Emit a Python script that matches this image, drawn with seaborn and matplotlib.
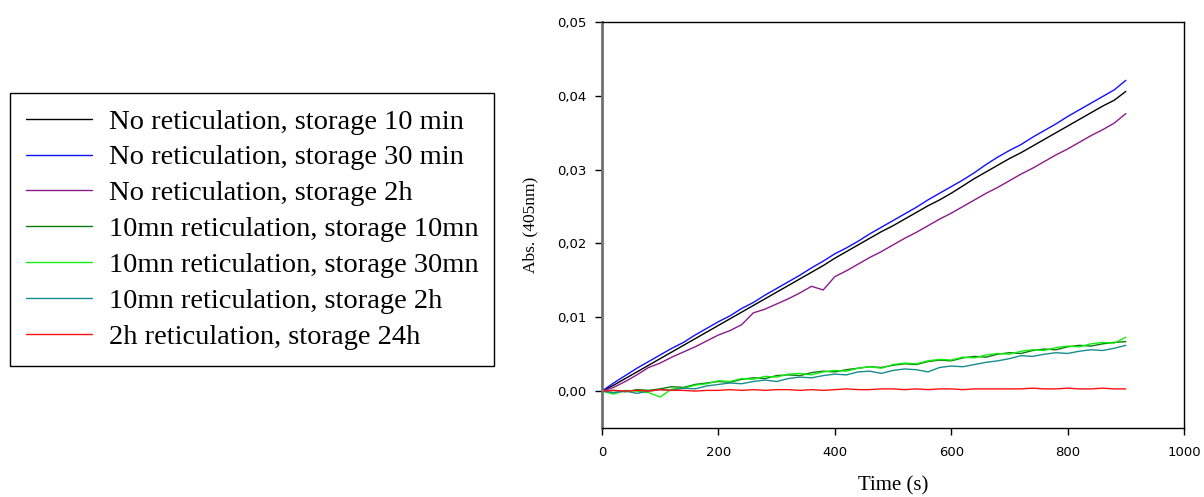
import seaborn as sns
import matplotlib.pyplot as plt
import matplotlib.ticker as mticker
import pandas as pd
import numpy as np

sns.set_style("white")
plt.rcParams.update({"text.color": "black", "axes.labelcolor": "black",
                     "xtick.color": "black", "ytick.color": "black"})

# Time axis (s), sampled every 20 s
time_s = list(range(0, 901, 20))

# Absorbance at 405 nm
no_ret_10min = [0.0000, 0.0008, 0.0017, 0.0026, 0.0035, 0.0044, 0.0053, 0.0062, 0.0071, 0.0080,
                0.0089, 0.0098, 0.0107, 0.0116, 0.0125, 0.0134, 0.0143, 0.0152, 0.0161, 0.0170,
                0.0180, 0.0189, 0.0198, 0.0207, 0.0216, 0.0224, 0.0233, 0.0242, 0.0251, 0.0259,
                0.0268, 0.0278, 0.0288, 0.0297, 0.0306, 0.0315, 0.0323, 0.0332, 0.0341, 0.0350,
                0.0359, 0.0368, 0.0377, 0.0386, 0.0394, 0.0406]
no_ret_30min = [0.0000, 0.0011, 0.0021, 0.0031, 0.0040, 0.0049, 0.0058, 0.0066, 0.0076, 0.0085,
                0.0094, 0.0102, 0.0112, 0.0120, 0.0130, 0.0139, 0.0148, 0.0157, 0.0167, 0.0176,
                0.0186, 0.0194, 0.0203, 0.0213, 0.0222, 0.0231, 0.0240, 0.0249, 0.0259, 0.0268,
                0.0277, 0.0286, 0.0296, 0.0307, 0.0317, 0.0326, 0.0334, 0.0344, 0.0353, 0.0362,
                0.0372, 0.0381, 0.0390, 0.0399, 0.0408, 0.0421]
no_ret_2h = [0.0000, 0.0005, 0.0013, 0.0022, 0.0032, 0.0038, 0.0046, 0.0053, 0.0060, 0.0068,
             0.0076, 0.0082, 0.0090, 0.0106, 0.0111, 0.0118, 0.0125, 0.0133, 0.0142, 0.0137,
             0.0155, 0.0163, 0.0172, 0.0181, 0.0189, 0.0198, 0.0207, 0.0215, 0.0224, 0.0233,
             0.0241, 0.0250, 0.0259, 0.0268, 0.0276, 0.0285, 0.0294, 0.0302, 0.0311, 0.0320,
             0.0328, 0.0337, 0.0346, 0.0354, 0.0363, 0.0376]
ret10_10mn = [0.0000, 0.0001, -0.0001, 0.0002, 0.0001, 0.0003, 0.0006, 0.0005, 0.0009, 0.0011,
              0.0013, 0.0012, 0.0016, 0.0018, 0.0017, 0.0021, 0.0022, 0.0021, 0.0025, 0.0027,
              0.0026, 0.0029, 0.0031, 0.0033, 0.0032, 0.0035, 0.0037, 0.0036, 0.0040, 0.0042,
              0.0041, 0.0045, 0.0047, 0.0046, 0.0050, 0.0052, 0.0051, 0.0055, 0.0057, 0.0056,
              0.0060, 0.0062, 0.0061, 0.0064, 0.0066, 0.0067]
ret10_30mn = [0.0000, -0.0004, 0.0001, 0.0000, -0.0002, -0.0008, 0.0003, 0.0004, 0.0008, 0.0010,
              0.0014, 0.0013, 0.0017, 0.0016, 0.0020, 0.0019, 0.0023, 0.0024, 0.0022, 0.0026,
              0.0028, 0.0027, 0.0031, 0.0033, 0.0031, 0.0036, 0.0038, 0.0037, 0.0041, 0.0043,
              0.0042, 0.0046, 0.0045, 0.0049, 0.0051, 0.0050, 0.0054, 0.0056, 0.0055, 0.0059,
              0.0061, 0.0060, 0.0064, 0.0066, 0.0065, 0.0073]
ret10_2h = [0.0000, -0.0002, 0.0000, -0.0003, 0.0000, 0.0002, 0.0001, 0.0004, 0.0003, 0.0007,
            0.0009, 0.0011, 0.0010, 0.0013, 0.0015, 0.0013, 0.0017, 0.0019, 0.0018, 0.0021,
            0.0023, 0.0022, 0.0026, 0.0027, 0.0024, 0.0028, 0.0030, 0.0029, 0.0026, 0.0032,
            0.0034, 0.0033, 0.0036, 0.0039, 0.0041, 0.0044, 0.0048, 0.0047, 0.0050, 0.0052,
            0.0051, 0.0054, 0.0056, 0.0055, 0.0058, 0.0062]
ret2h_24h = [0.0000, 0.0001, 0.0000, 0.0001, 0.0000, 0.0002, 0.0001, 0.0001, 0.0000, 0.0001,
             0.0001, 0.0002, 0.0001, 0.0002, 0.0001, 0.0002, 0.0002, 0.0001, 0.0002, 0.0001,
             0.0002, 0.0003, 0.0002, 0.0002, 0.0003, 0.0003, 0.0002, 0.0003, 0.0002, 0.0003,
             0.0003, 0.0002, 0.0003, 0.0003, 0.0003, 0.0003, 0.0003, 0.0004, 0.0003, 0.0003,
             0.0004, 0.0003, 0.0003, 0.0004, 0.0003, 0.0003]

labels = ["No reticulation, storage 10 min",
          "No reticulation, storage 30 min",
          "No reticulation, storage 2h",
          "10mn reticulation, storage 10mn",
          "10mn reticulation, storage 30mn",
          "10mn reticulation, storage 2h",
          "2h reticulation, storage 24h"]
series = [no_ret_10min, no_ret_30min, no_ret_2h, ret10_10mn, ret10_30mn, ret10_2h, ret2h_24h]
colors = ["#000000", "#1010ff", "#8b1a8b", "#0a7a0a", "#10f010", "#1a8c8c", "#ff1010"]

df = pd.concat([pd.DataFrame({"time": time_s, "abs": vals, "sample": lab})
                for lab, vals in zip(labels, series)], ignore_index=True)

fig = plt.figure(figsize=(12.04, 4.97), dpi=100)
ax = fig.add_axes([0.5, 0.1388, 0.4834, 0.8169])

sns.lineplot(data=df, x="time", y="abs", hue="sample", hue_order=labels,
             palette=colors, linewidth=1.0, ax=ax)

ax.set_xlim(0, 1000)
ax.set_ylim(-0.005, 0.05)
ax.set_xticks(np.arange(0, 1001, 200))
ax.set_yticks(np.arange(0, 0.051, 0.01))
ax.yaxis.set_major_formatter(mticker.FuncFormatter(lambda v, p: f"{v:.2f}".replace(".", ",")))
ax.tick_params(axis="both", direction="out", length=5, width=1, color="black",
               labelcolor="black", labelsize=9.5, left=True, bottom=True)
ax.tick_params(axis="x", pad=8)
ax.tick_params(axis="y", pad=6)

for side in ["top", "right", "bottom"]:
    ax.spines[side].set_color("black")
    ax.spines[side].set_linewidth(1.0)
ax.spines["left"].set_color("#707070")
ax.spines["left"].set_linewidth(2.0)

ax.set_xlabel("Time (s)", fontfamily="Liberation Serif", fontsize=15, labelpad=12, color="black")
ax.set_ylabel("Abs. (405nm)", fontfamily="Liberation Serif", fontsize=12.5, labelpad=14, color="black")

handles, hl = ax.get_legend_handles_labels()
ax.legend_.remove()
leg = fig.legend(handles, hl, loc="upper left", bbox_to_anchor=(10 / 1204, 1 - 93 / 497),
                 frameon=True, fancybox=False, edgecolor="black", framealpha=1,
                 prop={"family": "Liberation Serif", "size": 20.5},
                 handlelength=2.32, handletextpad=0.6, labelspacing=0.35,
                 borderpad=0.55, borderaxespad=0)
leg.get_frame().set_linewidth(1.0)
for h in leg.get_lines():
    h.set_linewidth(1.0)
for t in leg.get_texts():
    t.set_color("black")

fig.savefig("out.png", dpi=100)
